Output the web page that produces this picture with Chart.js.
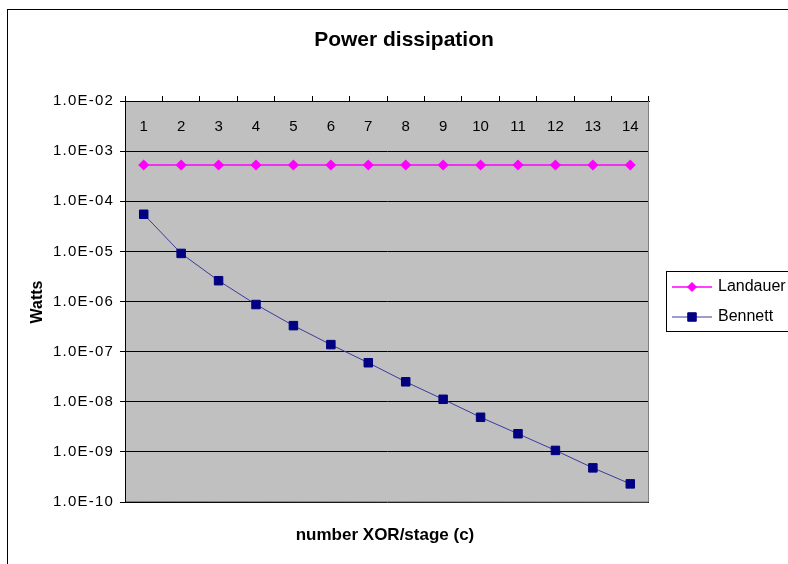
<!DOCTYPE html>
<html>
<head>
<meta charset="utf-8">
<title>Power dissipation</title>
<script src="https://cdn.jsdelivr.net/npm/chart.js@4.4.1/dist/chart.umd.min.js"></script>
<style>
    html, body { margin: 0; padding: 0; background: #fff; }
    #wrap { width: 788px; height: 564px; }
</style>
</head>
<body>
<div id="wrap"><canvas id="powerChart" width="788" height="564"></canvas></div>
<script>
const stages = ["1", "2", "3", "4", "5", "6", "7", "8", "9", "10", "11", "12", "13", "14"];
const landauerWatts = [5.3e-4, 5.3e-4, 5.3e-4, 5.3e-4, 5.3e-4, 5.3e-4, 5.3e-4, 5.3e-4, 5.3e-4, 5.3e-4, 5.3e-4, 5.3e-4, 5.3e-4, 5.3e-4];
const bennettWatts = [5.5e-5, 9.1e-6, 2.6e-6, 8.7e-7, 3.3e-7, 1.38e-7, 6.0e-8, 2.5e-8, 1.12e-8, 4.9e-9, 2.3e-9, 1.07e-9, 4.8e-10, 2.3e-10];
const yTickValues = [1e-10, 1e-9, 1e-8, 1e-7, 1e-6, 1e-5, 1e-4, 1e-3, 1e-2];
const yTickLabels = ["1.0E-10", "1.0E-09", "1.0E-08", "1.0E-07", "1.0E-06", "1.0E-05", "1.0E-04", "1.0E-03", "1.0E-02"];

const FONT = "'Liberation Sans', Arial, sans-serif";

// plot background, outer frame, titles, in-plot category labels and the boxed legend
const excelFrame = {
    id: "excelFrame",
    beforeDraw(chart) {
        const { ctx, chartArea: a } = chart;
        ctx.save();
        ctx.fillStyle = "#fff";
        ctx.fillRect(0, 0, chart.width, chart.height);
        ctx.strokeStyle = "#000";
        ctx.lineWidth = 1;
        ctx.strokeRect(7.5, 9.5, 820, 600);
        ctx.fillStyle = "#c0c0c0";
        ctx.fillRect(a.left, a.top, a.right - a.left, a.bottom - a.top);
        ctx.restore();
        // the value labels are spaced out a little
        ctx.letterSpacing = "1.2px";
    },
    afterDraw(chart) {
        const { ctx, chartArea: a } = chart;
        const x = chart.scales.x;
        ctx.letterSpacing = "0px";
        ctx.save();
        ctx.strokeStyle = "#808080";
        ctx.lineWidth = 1;
        ctx.beginPath();
        ctx.moveTo(Math.round(a.right) - 0.5, a.top);
        ctx.lineTo(Math.round(a.right) - 0.5, a.bottom);
        ctx.lineTo(a.left + 1, Math.round(a.bottom) - 0.5);
        ctx.stroke();

        ctx.fillStyle = "#000";
        ctx.textAlign = "center";
        ctx.textBaseline = "middle";
        ctx.font = "15px " + FONT;
        stages.forEach((s, i) => ctx.fillText(s, x.getPixelForValue(i), a.top + 26));

        ctx.font = "bold 21px " + FONT;
        ctx.fillText("Power dissipation", 404, 40);
        ctx.font = "bold 17px " + FONT;
        ctx.fillText("number XOR/stage (c)", 385, 535);
        ctx.save();
        ctx.translate(38, 302);
        ctx.rotate(-Math.PI / 2);
        ctx.font = "bold 16px " + FONT;
        ctx.fillText("Watts", 0, 0);
        ctx.restore();

        // legend
        ctx.strokeStyle = "#000";
        ctx.strokeRect(666.5, 271.5, 200, 60);
        ctx.textAlign = "left";
        ctx.font = "16px " + FONT;
        chart.data.datasets.forEach((ds, i) => {
            const y = 287 + i * 30;
            ctx.strokeStyle = ds.borderColor;
            ctx.lineWidth = ds.borderWidth;
            ctx.beginPath();
            ctx.moveTo(672, y);
            ctx.lineTo(712, y);
            ctx.stroke();
            ctx.fillStyle = ds.pointBackgroundColor;
            ctx.strokeStyle = ds.pointBorderColor;
            ctx.lineWidth = 1;
            Chart.helpers.drawPoint(ctx, { pointStyle: ds.pointStyle, radius: ds.pointRadius, rotation: 0, borderWidth: 1 }, 692, y);
            ctx.fillStyle = "#000";
            ctx.fillText(ds.label, 718, y);
        });
        ctx.restore();
    }
};

const powerChart = new Chart(document.getElementById("powerChart").getContext("2d"), {
    type: "line",
    data: {
        labels: stages,
        datasets: [
            {
                label: "Landauer",
                data: landauerWatts,
                borderColor: "#ff00ff",
                borderWidth: 1.5,
                pointStyle: "rectRot",
                pointRadius: 4.5,
                pointBackgroundColor: "#ff00ff",
                pointBorderColor: "#ff00ff",
                tension: 0
            },
            {
                label: "Bennett",
                data: bennettWatts,
                borderColor: "#3a3a9e",
                borderWidth: 1,
                pointStyle: "rect",
                pointRadius: 6,
                pointBackgroundColor: "#000080",
                pointBorderColor: "#000080",
                tension: 0
            }
        ]
    },
    options: {
        responsive: false,
        animation: false,
        devicePixelRatio: 1,
        layout: { padding: { left: 0, top: 95, right: 139, bottom: 62 } },
        plugins: { legend: { display: false }, title: { display: false }, tooltip: { enabled: false } },
        scales: {
            x: {
                type: "category",
                position: "top",
                offset: true,
                grid: { offset: true, drawOnChartArea: false, drawTicks: true, tickLength: 5, color: "#000" },
                border: { color: "#000" },
                ticks: { display: false },
                afterFit: (s) => { s.height = 6; }
            },
            y: {
                type: "logarithmic",
                min: 1e-10,
                max: 1e-2,
                grid: { color: "#000", tickLength: 5 },
                border: { color: "#000" },
                afterBuildTicks: (s) => { s.ticks = yTickValues.map((v) => ({ value: v })); },
                ticks: {
                    padding: 6,
                    color: "#000",
                    font: { family: FONT, size: 15 },
                    callback: (v) => yTickLabels[yTickValues.findIndex((t) => Math.abs(Math.log10(t) - Math.log10(v)) < 1e-6)]
                },
                afterFit: (s) => { s.width = 125; }
            }
        }
    },
    plugins: [excelFrame]
});
</script>
</body>
</html>
